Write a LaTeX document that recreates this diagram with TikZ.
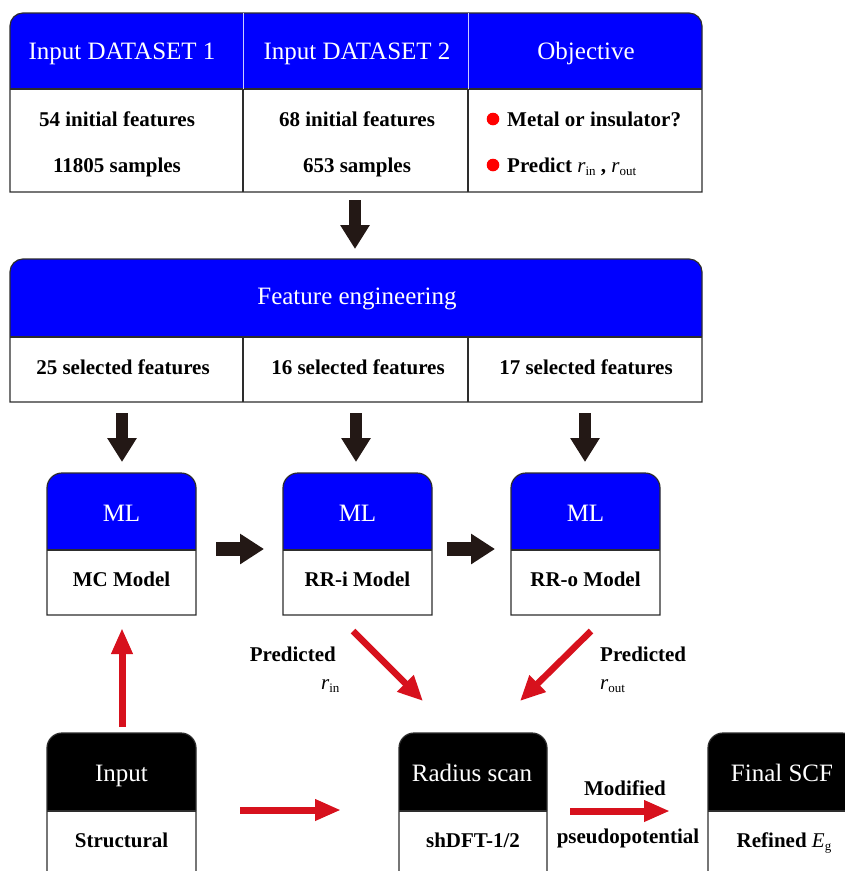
\documentclass[tikz,border=0pt]{standalone}
\usepackage{fontspec}
\setmainfont{Liberation Serif}
\usetikzlibrary{arrows.meta}
\definecolor{hblue}{RGB}{0,0,255}
\definecolor{darr}{RGB}{35,24,21}
\definecolor{rarr}{RGB}{215,17,29}
\definecolor{bline}{RGB}{45,45,45}
\definecolor{dotred}{RGB}{255,0,0}
\newcommand{\twobox}[8]{%
 \fill[#7] (#1,#4) -- (#1,{#3+#6}) .. controls (#1,{#3+0.45*#6}) and ({#1+0.45*#6},#3) .. ({#1+#6},#3) -- ({#2-#6},#3) .. controls ({#2-0.45*#6},#3) and (#2,{#3+0.45*#6}) .. (#2,{#3+#6}) -- (#2,#4) -- cycle;
 \draw[boxline] (#1,#5) -- (#1,{#3+#6}) .. controls (#1,{#3+0.45*#6}) and ({#1+0.45*#6},#3) .. ({#1+#6},#3) -- ({#2-#6},#3) .. controls ({#2-0.45*#6},#3) and (#2,{#3+0.45*#6}) .. (#2,{#3+#6}) -- (#2,#5) -- cycle;
 \draw[boxline] (#1,#4) -- (#2,#4);
 \coordinate (#8) at ({(#1+#2)/2},#3);
}
\newcommand{\sub}[1]{\raisebox{-0.35ex}{\fontsize{13}{14}\selectfont\mdseries\upshape #1}}
\tikzset{
 boxline/.style={draw=bline, line width=1.2pt},
 headtxt/.style={text=white, font=\fontsize{25}{30}\selectfont, inner sep=0pt, anchor=base},
 bodytxt/.style={text=black, font=\fontsize{21}{25}\selectfont\bfseries, inner sep=0pt, anchor=base},
 darkarrow/.style={draw=darr, line width=12pt, -{Triangle[width=28pt,length=24pt]}},
 darkarrowh/.style={draw=darr, line width=14pt, -{Triangle[width=29pt,length=24pt]}},
 redarrow/.style={draw=rarr, line width=7pt, -{Triangle[width=20pt,length=26pt]}},
 reddiag/.style={draw=rarr, line width=6.5pt, -{Triangle[width=22pt,length=25pt]}},
}
\begin{document}
\begin{tikzpicture}[x=1pt,y=-1pt]
\path[use as bounding box, clip] (0,0) rectangle (845,871);
\fill[white] (0,0) rectangle (845,871);

% ---------- top table ----------
\twobox{10}{702}{13}{89}{192}{13}{hblue}{toptab}
\draw[white!80!hblue, line width=1pt] (243,13) -- (243,89) (468,13) -- (468,89);
\draw[boxline] (243,89) -- (243,192) (468,89) -- (468,192);
\node[headtxt] (h1) at (122,59) {Input DATASET 1};
\node[headtxt] (h2) at (357,59) {Input DATASET 2};
\node[headtxt] (h3) at (586,59) {Objective};
\node[bodytxt] (b11) at (117,126) {54 initial features};
\node[bodytxt] (b12) at (117,172) {11805 samples};
\node[bodytxt] (b21) at (357,126) {68 initial features};
\node[bodytxt] (b22) at (357,172) {653 samples};
\fill[dotred] (493,119) circle (6.3);
\fill[dotred] (493,165) circle (6.3);
\node[bodytxt, anchor=base west] (b31) at (507,126) {Metal or insulator?};
\node[bodytxt, anchor=base west] (b32) at (507,172) {Predict \mdseries\itshape r\sub{in}\upshape\bfseries\ , \mdseries\itshape r\sub{out}};

% arrow to feature engineering
\coordinate (a0s) at (355,200);
\coordinate (a0e) at (355,249);
\draw[darkarrow] (a0s) -- (a0e);

% ---------- feature engineering ----------
\twobox{10}{702}{259}{337}{402}{13}{hblue}{fetab}
\draw[boxline] (243,337) -- (243,402) (468,337) -- (468,402);
\node[headtxt] (fe) at (357,304) {Feature engineering};
\node[bodytxt] (s1) at (123,374) {25 selected features};
\node[bodytxt] (s2) at (358,374) {16 selected features};
\node[bodytxt] (s3) at (586,374) {17 selected features};

\coordinate (d1s) at (122,413); \coordinate (d1e) at (122,462);
\coordinate (d2s) at (356,413); \coordinate (d2e) at (356,462);
\coordinate (d3s) at (585,413); \coordinate (d3e) at (585,462);
\draw[darkarrow] (d1s) -- (d1e);
\draw[darkarrow] (d2s) -- (d2e);
\draw[darkarrow] (d3s) -- (d3e);

% ---------- ML boxes ----------
\twobox{47}{196}{473}{550}{615}{15}{hblue}{mc}
\twobox{283}{432}{473}{550}{615}{15}{hblue}{rri}
\twobox{511}{660}{473}{550}{615}{15}{hblue}{rro}
\node[headtxt] (ml1) at (121.5,521) {ML};
\node[headtxt] (ml2) at (357.5,521) {ML};
\node[headtxt] (ml3) at (585.5,521) {ML};
\node[bodytxt] (m1) at (121.5,586) {MC Model};
\node[bodytxt] (m2) at (357.5,586) {RR-i Model};
\node[bodytxt] (m3) at (585.5,586) {RR-o Model};

\coordinate (h1s) at (216,549); \coordinate (h1e) at (264,549);
\coordinate (h2s) at (447,549); \coordinate (h2e) at (495,549);
\draw[darkarrowh] (h1s) -- (h1e);
\draw[darkarrowh] (h2s) -- (h2e);

% ---------- red arrows ----------
\coordinate (r1s) at (353,631); \coordinate (r1e) at (423,701);
\coordinate (r2s) at (591,631); \coordinate (r2e) at (520,701);
\draw[reddiag] (r1s) -- (r1e);
\draw[reddiag] (r2s) -- (r2e);
\node[bodytxt, anchor=base east] (p1) at (336,661) {Predicted};
\node[bodytxt, anchor=base west, font=\fontsize{21}{25}\selectfont] (p1r) at (321,689) {\itshape r\sub{in}};
\node[bodytxt, anchor=base west] (p2) at (600,661) {Predicted};
\node[bodytxt, anchor=base west, font=\fontsize{21}{25}\selectfont] (p2r) at (600,689) {\itshape r\sub{out}};

\coordinate (u1s) at (122,727); \coordinate (u1e) at (122,628);
\draw[redarrow] (u1s) -- (u1e);

% ---------- bottom boxes ----------
\twobox{47}{196}{733}{811}{890}{15}{black}{inp}
\twobox{399}{547}{733}{811}{890}{15}{black}{rad}
\twobox{708}{857}{733}{811}{890}{15}{black}{fin}
\node[headtxt] (t1) at (121.5,781) {Input};
\node[headtxt] (t2) at (472,781) {Radius scan};
\node[headtxt] (t3) at (782,781) {Final SCF};
\node[bodytxt] (c1) at (121.5,847) {Structural};
\node[bodytxt] (c2) at (473,847) {shDFT-1/2};
\node[bodytxt] (c3) at (784,847) {Refined \mdseries\itshape E\sub{g}};

\coordinate (x1s) at (240,810); \coordinate (x1e) at (341,810);
\coordinate (x2s) at (570,811); \coordinate (x2e) at (670,811);
\draw[redarrow] (x1s) -- (x1e);
\draw[redarrow] (x2s) -- (x2e);
\node[bodytxt] (mod) at (625,795) {Modified};
\node[bodytxt] (pse) at (628,843) {pseudopotential};
\end{tikzpicture}
\end{document}
